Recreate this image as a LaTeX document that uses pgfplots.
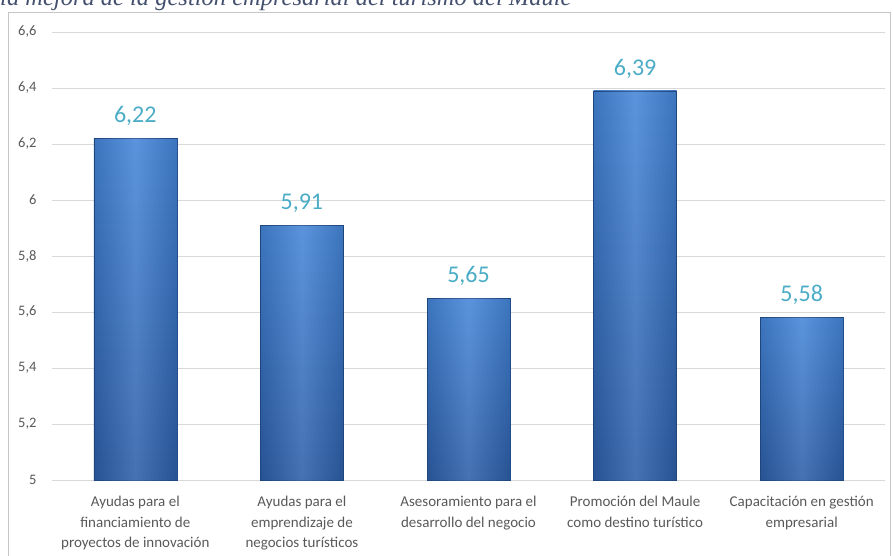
\documentclass[border=0pt]{standalone}
\usepackage{pgfplots}
\pgfplotsset{compat=1.18}
\usepackage{fontspec}
\setmainfont{Carlito}
\newfontfamily\titlefont{Liberation Serif}
\definecolor{gridgray}{HTML}{D9D9D9}
\definecolor{ticktext}{HTML}{595959}
\definecolor{labelblue}{HTML}{4BACC6}
\definecolor{bartop}{HTML}{4586D8}
\definecolor{barbot}{HTML}{2D5EA8}
\definecolor{baredge}{HTML}{234F8E}
\definecolor{titlecol}{HTML}{44506E}
\pgfplotsset{
  mybar/.style={ybar, bar width=83pt, bar shift=0pt, draw=baredge, line width=0.5pt,
    top color=bartop, bottom color=barbot,
    nodes near coords,
    nodes near coords style={font=\fontsize{24}{24}\selectfont, text=labelblue, anchor=south, yshift=9pt,
      /pgf/number format/.cd, fixed, fixed zerofill, precision=2, use comma}},
  myshade/.style={ybar, bar width=83pt, bar shift=0pt, draw=none, fill opacity=0.12,
    left color=black, right color=black, middle color=white},
}
\begin{document}
\begin{tikzpicture}
\useasboundingbox (0pt,0pt) rectangle (893pt,555pt);
\node[anchor=base west, inner sep=0, font=\titlefont\itshape\fontsize{24.5}{24.5}\selectfont, text=titlecol] at (0pt,549pt) {la mejora de la gestión empresarial del turismo del Maule};
\draw[gray!45, line width=0.8pt] (8pt,-5pt) -- (8pt,543pt) -- (890pt,543pt) -- (890pt,-5pt);
\begin{axis}[
  at={(52pt,75pt)}, anchor=south west,
  scale only axis, width=833pt, height=448pt,
  xmin=-0.5, xmax=4.5, ymin=5, ymax=6.6,
  ytick={5,5.2,5.4,5.6,5.8,6,6.2,6.4,6.6},
  xtick={0,1,2,3,4},
  xticklabels={Ayudas para el\\financiamiento de\\proyectos de innovación,
    Ayudas para el\\emprendizaje de\\negocios turísticos,
    Asesoramiento para el\\desarrollo del negocio,
    Promoción del Maule\\como destino turístico,
    Capacitación en gestión\\empresarial},
  xticklabel style={align=center, font=\fontsize{15}{20.5}\selectfont, text=ticktext, yshift=-13pt},
  yticklabel style={font=\fontsize{14.5}{14.5}\selectfont, text=ticktext, xshift=-12pt},
  /pgf/number format/assume math mode=true,
  /pgf/number format/use comma,
  axis line style={draw=none},
  major tick length=0pt,
  ymajorgrids, grid style={gridgray, line width=0.8pt},
  clip=false,
]
\addplot[mybar] coordinates {(0,6.22)};
\addplot[myshade] coordinates {(0,6.22)};
\addplot[mybar] coordinates {(1,5.91)};
\addplot[myshade] coordinates {(1,5.91)};
\addplot[mybar] coordinates {(2,5.65)};
\addplot[myshade] coordinates {(2,5.65)};
\addplot[mybar] coordinates {(3,6.39)};
\addplot[myshade] coordinates {(3,6.39)};
\addplot[mybar] coordinates {(4,5.58)};
\addplot[myshade] coordinates {(4,5.58)};
\end{axis}
\end{tikzpicture}
\end{document}
